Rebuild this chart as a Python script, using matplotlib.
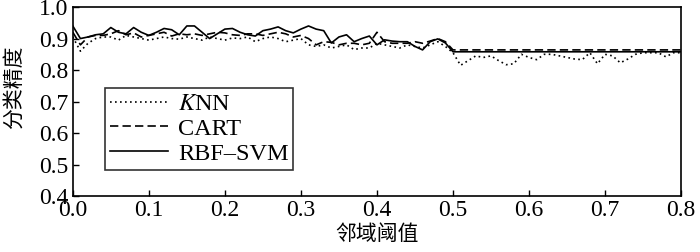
import numpy as np
import matplotlib
matplotlib.use('Agg')
import matplotlib.pyplot as plt

plt.rcParams['font.family'] = ['Liberation Serif', 'Noto Sans CJK SC']
plt.rcParams['mathtext.fontset'] = 'stix'

# neighbourhood threshold grid, 0.00 .. 0.80 step 0.01
thr = [round(0.01 * i, 2) for i in range(81)]

knn = [0.905, 0.860, 0.885, 0.900, 0.905, 0.905, 0.895, 0.910, 0.905, 0.900,
       0.895, 0.900, 0.905, 0.900, 0.898, 0.905, 0.900, 0.895, 0.905, 0.900,
       0.895, 0.902, 0.900, 0.905, 0.890, 0.900, 0.905, 0.900, 0.890, 0.895,
       0.900, 0.880, 0.875, 0.880, 0.870, 0.875, 0.880, 0.865, 0.870, 0.870,
       0.885, 0.880, 0.875, 0.870, 0.880, 0.875, 0.870, 0.880, 0.890, 0.875,
       0.855, 0.815, 0.830, 0.845, 0.840, 0.845, 0.830, 0.817, 0.820, 0.850,
       0.840, 0.833, 0.850, 0.850, 0.845, 0.840, 0.835, 0.833, 0.855, 0.820,
       0.850, 0.845, 0.823, 0.835, 0.850, 0.855, 0.855, 0.855, 0.842, 0.855,
       0.855]

cart = [0.920, 0.880, 0.905, 0.910, 0.910, 0.915, 0.925, 0.912, 0.918, 0.905,
        0.910, 0.915, 0.920, 0.908, 0.915, 0.912, 0.915, 0.910, 0.915, 0.920,
        0.918, 0.912, 0.910, 0.915, 0.915, 0.910, 0.915, 0.920, 0.915, 0.905,
        0.910, 0.900, 0.880, 0.890, 0.888, 0.880, 0.885, 0.885, 0.880, 0.885,
        0.920, 0.890, 0.885, 0.885, 0.885, 0.890, 0.885, 0.892, 0.900, 0.890,
        0.864, 0.864, 0.864, 0.864, 0.864, 0.864, 0.864, 0.864, 0.864, 0.864,
        0.864, 0.864, 0.864, 0.864, 0.864, 0.864, 0.864, 0.864, 0.864, 0.864,
        0.864, 0.864, 0.864, 0.864, 0.864, 0.864, 0.864, 0.864, 0.864, 0.864,
        0.864]

svm = [0.940, 0.900, 0.905, 0.912, 0.915, 0.935, 0.920, 0.915, 0.935, 0.920,
       0.910, 0.920, 0.932, 0.928, 0.912, 0.940, 0.940, 0.920, 0.900, 0.915,
       0.930, 0.932, 0.920, 0.912, 0.908, 0.925, 0.930, 0.937, 0.925, 0.918,
       0.930, 0.940, 0.930, 0.925, 0.886, 0.905, 0.912, 0.890, 0.900, 0.908,
       0.880, 0.896, 0.892, 0.890, 0.890, 0.875, 0.864, 0.890, 0.899, 0.886,
       0.858, 0.858, 0.858, 0.858, 0.858, 0.858, 0.858, 0.858, 0.858, 0.858,
       0.858, 0.858, 0.858, 0.858, 0.858, 0.858, 0.858, 0.858, 0.858, 0.858,
       0.858, 0.858, 0.858, 0.858, 0.858, 0.858, 0.858, 0.858, 0.858, 0.858,
       0.858]

fig = plt.figure(figsize=(7, 2.52), dpi=100)
ax = fig.add_axes([0.104, 0.222, 0.869, 0.75])

ax.plot(thr, knn, color='black', lw=1.2, ls=(0, (1, 2)), label='$K$NN')
ax.plot(thr, cart, color='black', lw=1.2, ls=(0, (5, 2.5)), label='CART')
ax.plot(thr, svm, color='black', lw=1.2, ls='-', label='RBF–SVM')

ax.set_xlim(0, 0.8)
ax.set_ylim(0.4, 1.0)
ax.set_xticks(np.arange(0, 0.81, 0.1))
ax.set_yticks(np.arange(0.4, 1.01, 0.1))
ax.xaxis.set_major_formatter(matplotlib.ticker.FormatStrFormatter('%.1f'))
ax.yaxis.set_major_formatter(matplotlib.ticker.FormatStrFormatter('%.1f'))
ax.tick_params(direction='in', length=4, width=1, labelsize=17, pad=3)
for s in ax.spines.values():
    s.set_linewidth(1.2)

ax.set_xlabel('邻域阈值', family=['Noto Sans CJK SC'], fontsize=15, labelpad=1)
ax.set_ylabel('分类精度', family=['Noto Sans CJK SC'], fontsize=15)
ax.yaxis.set_label_coords(-0.079, 0.577)

leg = ax.legend(loc='upper left', bbox_to_anchor=(0.053, 0.571), fontsize=17.5,
                frameon=True, fancybox=False, edgecolor='black',
                handlelength=2.4, handletextpad=0.4, borderpad=0.2,
                labelspacing=0.12, borderaxespad=0)
leg.get_frame().set_linewidth(1.2)

fig.savefig('out.png', dpi=100)
